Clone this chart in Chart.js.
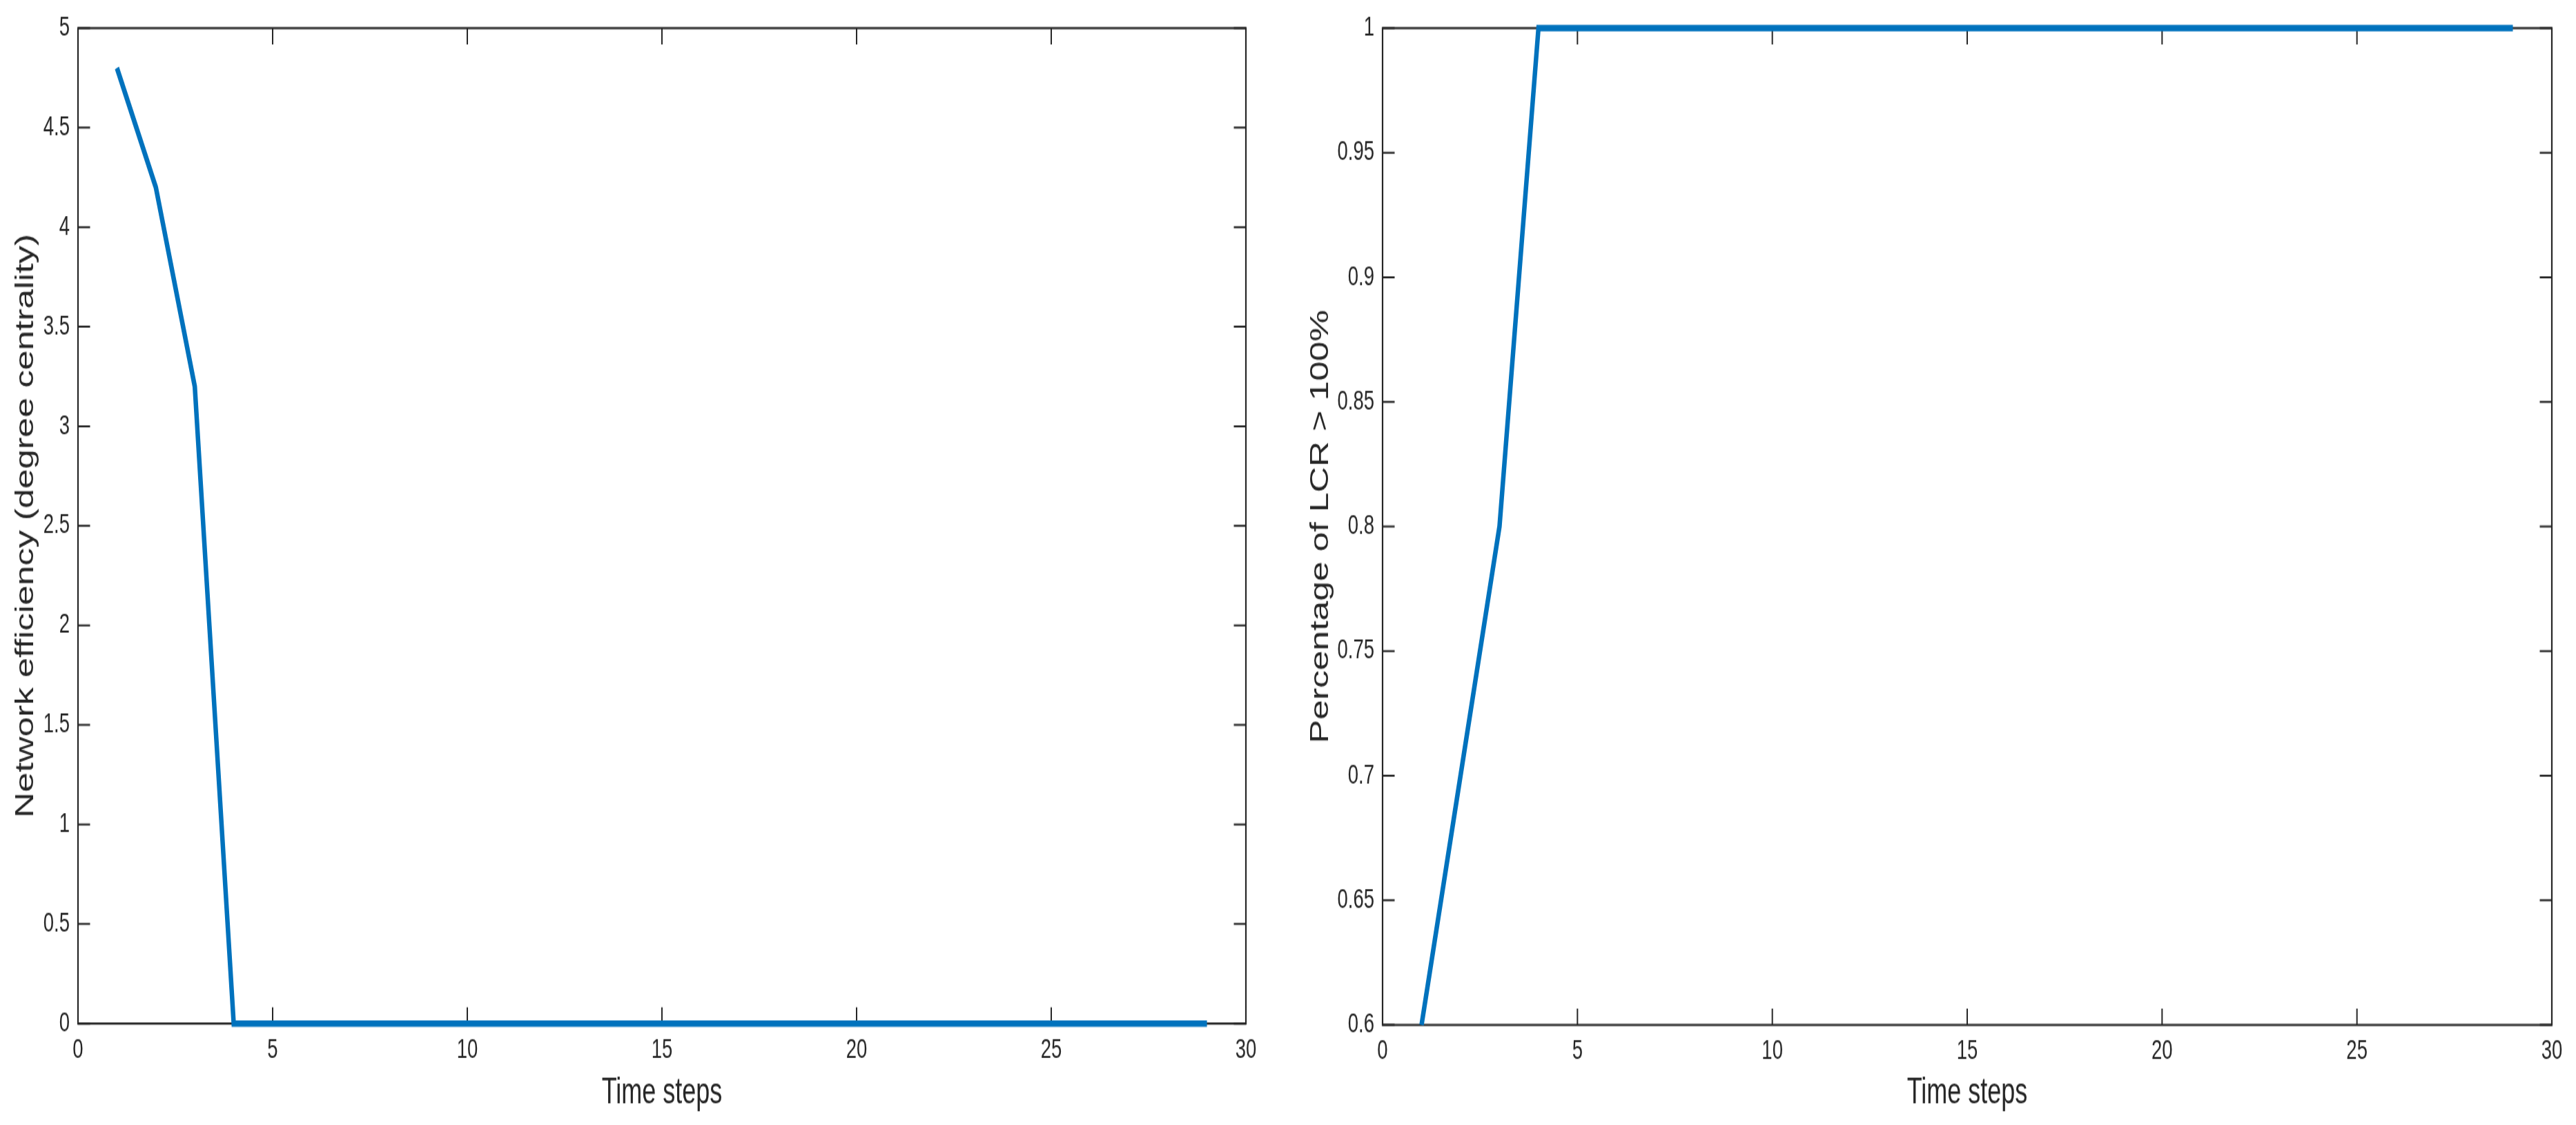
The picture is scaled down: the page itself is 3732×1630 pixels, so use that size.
<!DOCTYPE html>
<html><head><meta charset="utf-8">
<script src="https://cdn.jsdelivr.net/npm/chart.js@4"></script>
<style>
html,body{margin:0;padding:0;background:#fff;overflow:hidden;}
#wrap{position:relative;width:3732px;height:1630px;background:#fff;}
canvas{position:absolute;top:0;}
</style></head><body>
<div id="wrap">
<canvas id="c1" width="1866" height="1140" style="left:0px;width:1866px;height:1630px;"></canvas>
<canvas id="c2" width="1866" height="1140" style="left:1866px;width:1866px;height:1630px;"></canvas>
</div>
<script>
// ---- data ----
const timeSteps = [1,2,3,4,5,6,7,8,9,10,11,12,13,14,15,16,17,18,19,20,21,22,23,24,25,26,27,28,29];
const efficiencyValues = [4.8,4.2,3.2,0,0,0,0,0,0,0,0,0,0,0,0,0,0,0,0,0,0,0,0,0,0,0,0,0,0];
const lcrValues = [0.6,0.7,0.8,1,1,1,1,1,1,1,1,1,1,1,1,1,1,1,1,1,1,1,1,1,1,1,1,1,1];
const xTickValues = [0,5,10,15,20,25,30];
const efficiencyTicks = [0,0.5,1,1.5,2,2.5,3,3.5,4,4.5,5];
const lcrTicks = [0.6,0.65,0.7,0.75,0.8,0.85,0.9,0.95,1];
const xTitle = 'Time steps';
const leftTitle = 'Network efficiency (degree centrality)';
const rightTitle = 'Percentage of LCR > 100%';

const FONT = "'Liberation Sans', Arial, Helvetica, sans-serif";
const INK = '#262626';
const CW = 1866, CH = 1140;

const boxPlugin = {
  id: 'matlabBox',
  beforeDatasetsDraw(chart) {
    const {ctx, chartArea: a, scales: {x, y}} = chart;
    ctx.save();
    ctx.strokeStyle = INK;
    ctx.lineWidth = 2.2;
    ctx.strokeRect(a.left, a.top, a.right - a.left, a.bottom - a.top);
    ctx.lineWidth = 2;
    ctx.beginPath();
    const LX = 17.5, LY = 16.5;
    x.ticks.forEach(t => {
      const px = x.getPixelForValue(t.value);
      ctx.moveTo(px, a.bottom); ctx.lineTo(px, a.bottom - LY);
      ctx.moveTo(px, a.top); ctx.lineTo(px, a.top + LY);
    });
    y.ticks.forEach(t => {
      const py = y.getPixelForValue(t.value);
      ctx.moveTo(a.left, py); ctx.lineTo(a.left + LX, py);
      ctx.moveTo(a.right, py); ctx.lineTo(a.right - LX, py);
    });
    ctx.stroke();
    ctx.restore();
  }
};

function makeChart(id, values, yTicks, yTitle, g) {
  return new Chart(document.getElementById(id), {
    type: 'line',
    data: {
      datasets: [{
        data: timeSteps.map((t, i) => ({x: t, y: values[i]})),
        borderColor: '#0072BD',
        borderWidth: 6.5,
        pointRadius: 0,
        pointHoverRadius: 0,
        fill: false,
        tension: 0,
        borderJoinStyle: 'miter',
        borderCapStyle: 'butt',
        clip: false
      }]
    },
    options: {
      responsive: false,
      animation: false,
      devicePixelRatio: 1,
      events: [],
      layout: {padding: {left: 0, top: g.top, right: CW - g.right, bottom: 0}},
      plugins: {legend: {display: false}, tooltip: {enabled: false}},
      scales: {
        x: {
          type: 'linear', min: 0, max: 30,
          afterBuildTicks: s => { s.ticks = xTickValues.map(v => ({value: v})); },
          afterFit: s => { s.height = CH - g.bottom; },
          grid: {display: false, drawTicks: false},
          border: {display: false},
          ticks: {font: {family: FONT, size: 27.5}, color: INK, padding: 10.5, maxRotation: 0, autoSkip: false, callback: v => String(v)},
          title: {display: true, text: xTitle, font: {family: FONT, size: 36}, color: INK, padding: {top: 0, bottom: 10.6}}
        },
        y: {
          type: 'linear', min: yTicks[0], max: yTicks[yTicks.length - 1],
          afterBuildTicks: s => { s.ticks = yTicks.map(v => ({value: v})); },
          afterFit: s => { s.width = g.left; },
          grid: {display: false, drawTicks: false},
          border: {display: false},
          ticks: {font: {family: FONT, size: 27.5}, color: INK, padding: 12, autoSkip: false, callback: v => String(v)},
          title: {display: true, text: yTitle, font: {family: FONT, size: 36}, color: INK, padding: {top: g.titlePad, bottom: 0}}
        }
      }
    },
    plugins: [boxPlugin]
  });
}

const S = 1630 / CH;
makeChart('c1', efficiencyValues, efficiencyTicks, leftTitle,
  {left: 113, right: 1805, top: 38 / S, bottom: 1483 / S, titlePad: 16.4});
makeChart('c2', lcrValues, lcrTicks, rightTitle,
  {left: 2003 - 1866, right: 3697 - 1866, top: 30 / S, bottom: 1485 / S, titlePad: 26});
</script>
</body></html>
